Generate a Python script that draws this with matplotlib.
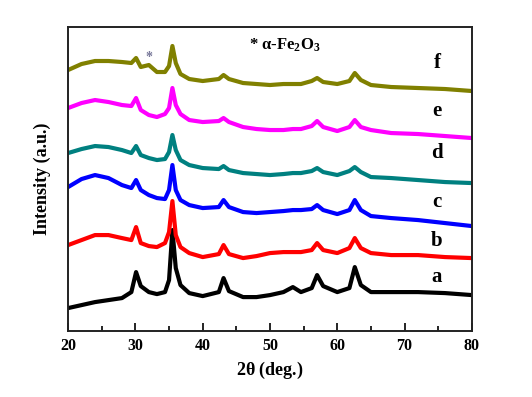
"""
XRD patterns of samples a-f (alpha-Fe2O3 impurity marked).
"""
import numpy as np
import matplotlib
matplotlib.use('Agg')
import matplotlib.pyplot as plt
from matplotlib.ticker import MultipleLocator

plt.rcParams['font.family'] = ['Liberation Serif', 'DejaVu Serif']
plt.rcParams['font.weight'] = 'bold'
plt.rcParams['mathtext.fontset'] = 'custom'
plt.rcParams['mathtext.rm'] = 'Liberation Serif:bold'
plt.rcParams['mathtext.bf'] = 'Liberation Serif:bold'
plt.rcParams['mathtext.it'] = 'Liberation Serif:bold'

# 2theta knots
two_theta = [20, 22, 24, 26, 28, 29.4, 30.1, 30.8, 32, 33.2, 34.4, 35.0, 35.5,
             36.0, 36.7, 38, 40, 42.4, 43.1, 43.9, 46, 48, 50, 52, 53.4, 54.6,
             56.2, 57.0, 57.9, 60, 61.8, 62.6, 63.5, 65, 68, 72, 76, 80]

# stacked intensities (a.u., offsets included as drawn)
int_a = [23, 26, 29, 31, 33, 39, 59, 45, 39, 37, 39, 51, 101, 63, 46, 38, 35, 39,
         53, 40, 34, 34, 36, 39, 44, 39, 43, 56, 45, 39, 43, 64, 46, 39, 39, 39, 38, 36]
int_b = [86, 91, 96, 96, 93, 91, 104, 88, 85, 84, 88, 99, 130, 96, 84, 78, 74, 77,
         86, 77, 73, 75, 78, 79, 79, 79, 81, 88, 81, 78, 83, 93, 83, 78, 76, 76, 74, 73]
int_c = [144, 152, 156, 153, 146, 143, 151, 141, 136, 133, 132, 141, 166, 141, 131,
         126, 123, 124, 131, 124, 119, 118, 119, 120, 121, 121, 122, 126, 121, 117,
         121, 131, 121, 115, 113, 111, 108, 105]
int_d = [178, 182, 185, 184, 181, 178, 185, 176, 173, 171, 172, 179, 196, 181, 171,
         166, 163, 162, 165, 161, 158, 157, 156, 157, 158, 158, 160, 163, 159, 156,
         160, 164, 159, 154, 153, 151, 149, 148]
int_e = [223, 228, 231, 229, 226, 225, 233, 221, 216, 214, 217, 223, 243, 226, 217,
         211, 209, 210, 213, 209, 204, 202, 201, 201, 202, 202, 205, 210, 204, 200,
         204, 211, 204, 201, 198, 197, 195, 193]
int_f = [261, 267, 270, 270, 269, 268, 273, 264, 266, 259, 259, 265, 285, 268, 257,
         252, 250, 252, 256, 252, 248, 247, 246, 247, 247, 247, 250, 253, 249, 247,
         250, 258, 251, 246, 244, 243, 242, 240]

labels = ['a', 'b', 'c', 'd', 'e', 'f']
series = [int_a, int_b, int_c, int_d, int_e, int_f]
colors = ['#000000', '#ff0000', '#0000ff', '#008080', '#ff00ff', '#808000']
label_y = [54, 90, 129, 178, 220, 268]

fig = plt.figure(figsize=(5.32, 3.97), dpi=100)
ax = fig.add_axes([0.128, 0.166, 0.759, 0.766])

for y, c in zip(series, colors):
    ax.plot(two_theta, y, '-', color=c, linewidth=3.0, solid_joinstyle='round')

for lab, ly in zip(labels, label_y):
    ax.text(74.8, ly, lab, fontsize=15, fontweight='bold', ha='center', va='center')

ax.text(52.2, 286, r'* $\alpha$-Fe$_2$O$_3$', fontsize=12, fontweight='bold',
        ha='center', va='center')
ax.text(32.0, 274, '*', fontsize=10, color='#777799', ha='center', va='center')

ax.set_xlim(20, 80)
ax.set_ylim(0, 304)
ax.xaxis.set_major_locator(MultipleLocator(10))
ax.xaxis.set_minor_locator(MultipleLocator(5))
ax.set_yticks([])
ax.tick_params(axis='x', which='major', direction='in', length=6, width=1.2,
               labelsize=11.5, pad=5)
ax.tick_params(axis='x', which='minor', direction='in', length=3.5, width=1.2)
for s in ax.spines.values():
    s.set_linewidth(1.4)
    s.set_color('#222222')
for lbl in ax.get_xticklabels():
    lbl.set_fontweight('bold')

ax.set_xlabel(r'2$\theta$ (deg.)', fontsize=13, fontweight='bold', labelpad=4)
ax.set_ylabel('Intensity (a.u.)', fontsize=13, fontweight='bold', labelpad=12)

fig.savefig('out.png', dpi=100)
